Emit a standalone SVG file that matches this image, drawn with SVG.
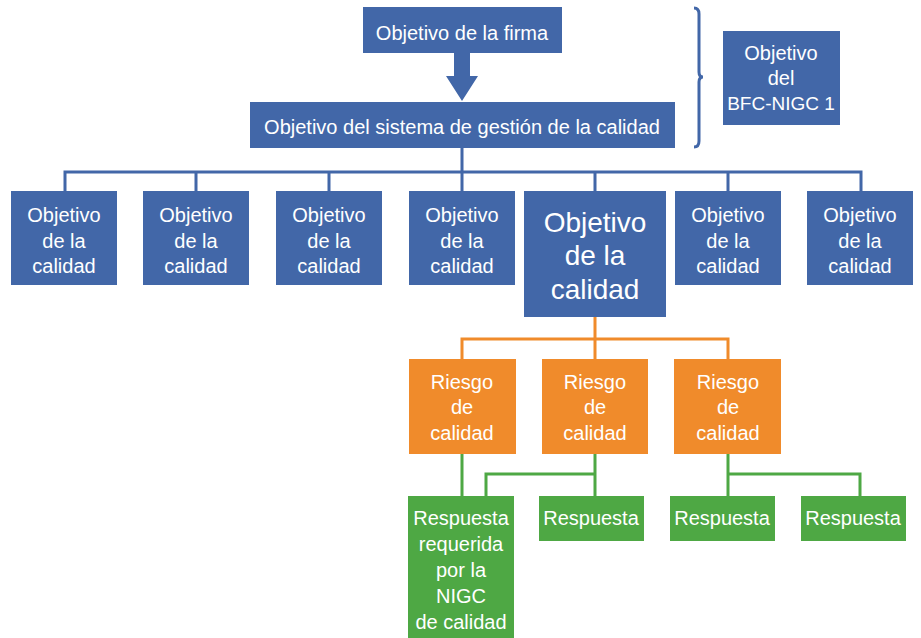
<svg xmlns="http://www.w3.org/2000/svg" width="921" height="638" viewBox="0 0 921 638">
<style>
.b{fill:#4267A8}
.o{fill:#F08B2B}
.g{fill:#4EA844}
text{font-family:"Liberation Sans",Arial,sans-serif;fill:#fff;text-anchor:middle;font-size:20px}
text.big{font-size:28px}
text.s19{font-size:19px}
.lb{stroke:#4267A8;stroke-width:3;fill:none}
.lo{stroke:#F08B2B;stroke-width:3;fill:none}
.lg{stroke:#4EA844;stroke-width:3;fill:none}
</style>
<rect width="921" height="638" fill="#fff"/>
<g id="connectors">
<path class="lb" d="M462,148 V172 M65,191 V172 H861 V191 M196,172 V191 M329,172 V191 M462,172 V191 M595,172 V191 M728,172 V191"/>
<path class="lb" d="M694,8 Q699,8 699,14 V72 Q699,77 703,77 Q699,77 699,82 V141 Q699,147 694,147" stroke-width="2.5"/>
<polygon class="b" points="454,53 470,53 470,76 478,76 462,101 446,76 454,76"/>
<path class="lo" d="M595,317 V339 M462,359 V339 H728 V359 M595,339 V359"/>
<path class="lg" d="M462,454 V496 M595,454 V496 M595,474 H486 V496 M728,454 V496 M728,474 H860 V496"/>
</g>
<g id="firma"><rect class="b" x="363" y="7" width="199" height="46"/><text x="462" y="40">Objetivo de la firma</text></g>
<g id="sgc"><rect class="b" x="250" y="102" width="425" height="46"/><text x="462" y="134">Objetivo del sistema de gestión de la calidad</text></g>
<g id="bfc"><rect class="b" x="723" y="31" width="117" height="94"/><text x="781" y="60">Objetivo</text><text x="781" y="85">del</text><text class="s19" x="781" y="110">BFC-NIGC 1</text></g>
<g id="oc1"><rect class="b" x="11" y="191" width="106" height="94"/><text x="64" y="222">Objetivo</text><text x="64" y="248">de la</text><text x="64" y="273">calidad</text></g>
<g id="oc2"><rect class="b" x="143" y="191" width="106" height="94"/><text x="196" y="222">Objetivo</text><text x="196" y="248">de la</text><text x="196" y="273">calidad</text></g>
<g id="oc3"><rect class="b" x="276" y="191" width="106" height="94"/><text x="329" y="222">Objetivo</text><text x="329" y="248">de la</text><text x="329" y="273">calidad</text></g>
<g id="oc4"><rect class="b" x="409" y="191" width="106" height="94"/><text x="462" y="222">Objetivo</text><text x="462" y="248">de la</text><text x="462" y="273">calidad</text></g>
<g id="oc5"><rect class="b" x="524" y="191" width="142" height="126"/><text class="big" x="595" y="232">Objetivo</text><text class="big" x="595" y="265">de la</text><text class="big" x="595" y="299">calidad</text></g>
<g id="oc6"><rect class="b" x="675" y="191" width="106" height="94"/><text x="728" y="222">Objetivo</text><text x="728" y="248">de la</text><text x="728" y="273">calidad</text></g>
<g id="oc7"><rect class="b" x="807" y="191" width="106" height="94"/><text x="860" y="222">Objetivo</text><text x="860" y="248">de la</text><text x="860" y="273">calidad</text></g>
<g id="r1"><rect class="o" x="409" y="359" width="107" height="95"/><text x="462" y="389">Riesgo</text><text x="462" y="414">de</text><text x="462" y="440">calidad</text></g>
<g id="r2"><rect class="o" x="542" y="359" width="106" height="95"/><text x="595" y="389">Riesgo</text><text x="595" y="414">de</text><text x="595" y="440">calidad</text></g>
<g id="r3"><rect class="o" x="674" y="359" width="107" height="95"/><text x="728" y="389">Riesgo</text><text x="728" y="414">de</text><text x="728" y="440">calidad</text></g>
<g id="p1"><rect class="g" x="408" y="496" width="106" height="145"/><text x="461" y="525">Respuesta</text><text x="461" y="551">requerida</text><text x="461" y="577">por la</text><text x="461" y="603">NIGC</text><text x="461" y="629">de calidad</text></g>
<g id="p2"><rect class="g" x="539" y="496" width="105" height="45"/><text x="591" y="525">Respuesta</text></g>
<g id="p3"><rect class="g" x="670" y="496" width="105" height="45"/><text x="722" y="525">Respuesta</text></g>
<g id="p4"><rect class="g" x="801" y="496" width="105" height="45"/><text x="853" y="525">Respuesta</text></g>
</svg>
